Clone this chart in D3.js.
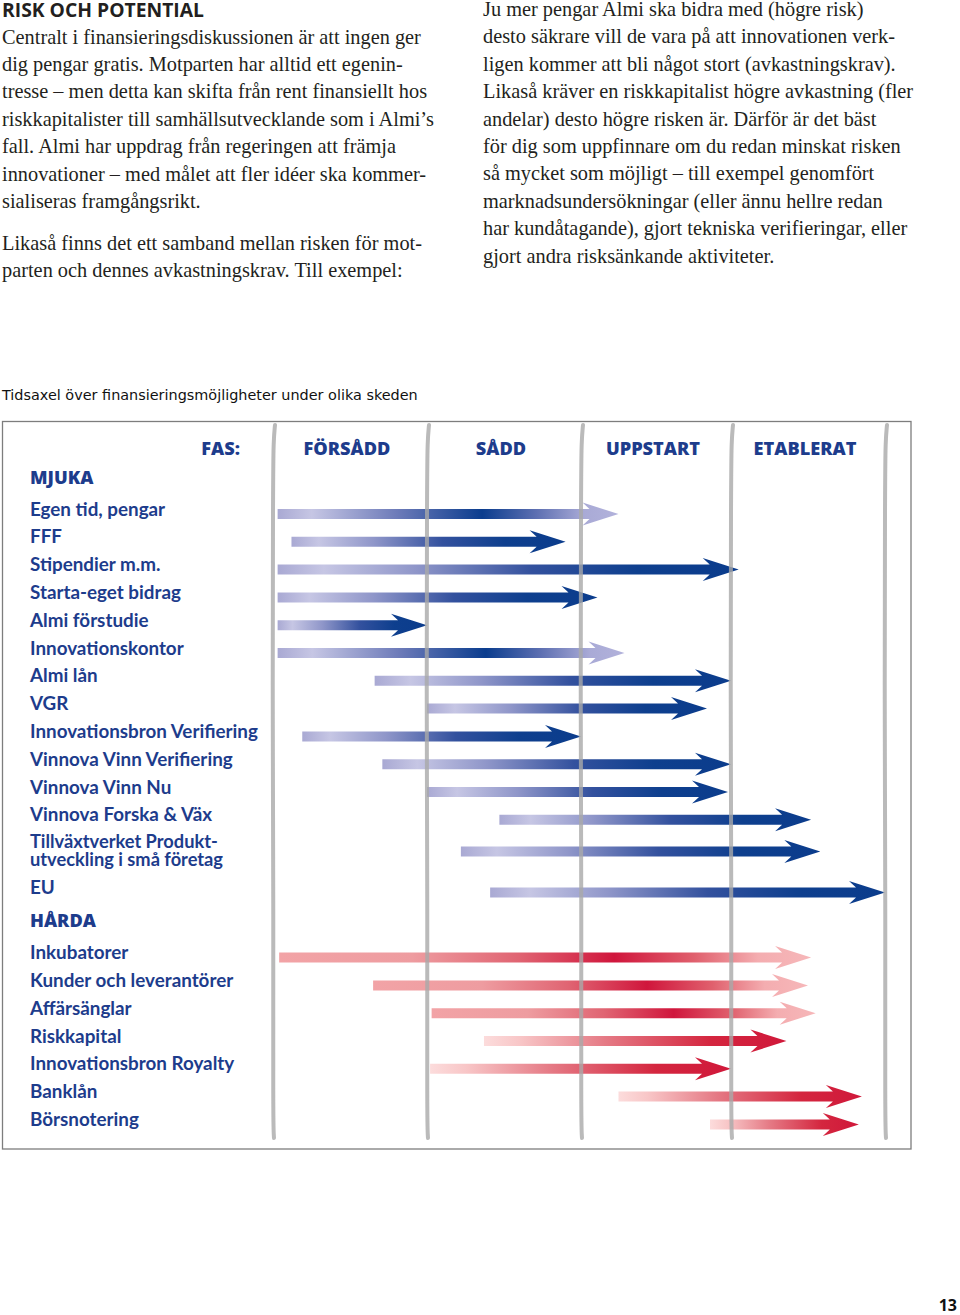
<!DOCTYPE html>
<html><head><meta charset="utf-8">
<script src="https://cdn.jsdelivr.net/npm/d3@7"></script>
<style>body{margin:0;background:#fff;} svg{display:block;}</style>
</head><body>
<svg id="c" width="960" height="1315"></svg>
<script>
// ---------- DATA ----------
const title = "RISK OCH POTENTIAL";
const leftText = [
  "Centralt i finansieringsdiskussionen är att ingen ger",
  "dig pengar gratis. Motparten har alltid ett egenin-",
  "tresse – men detta kan skifta från rent finansiellt hos",
  "riskkapitalister till samhällsutvecklande som i Almi’s",
  "fall. Almi har uppdrag från regeringen att främja",
  "innovationer – med målet att fler idéer ska kommer-",
  "sialiseras framgångsrikt."
];
const leftText2 = [
  "Likaså finns det ett samband mellan risken för mot-",
  "parten och dennes avkastningskrav. Till exempel:"
];
const rightText = [
  "Ju mer pengar Almi ska bidra med (högre risk)",
  "desto säkrare vill de vara på att innovationen verk-",
  "ligen kommer att bli något stort (avkastningskrav).",
  "Likaså kräver en riskkapitalist högre avkastning (fler",
  "andelar) desto högre risken är. Därför är det bäst",
  "för dig som uppfinnare om du redan minskat risken",
  "så mycket som möjligt – till exempel genomfört",
  "marknadsundersökningar (eller ännu hellre redan",
  "har kundåtagande), gjort tekniska verifieringar, eller",
  "gjort andra risksänkande aktiviteter."
];
const caption = "Tidsaxel över finansieringsmöjligheter under olika skeden";
const phaseTitle = "FAS:";
const phases = ["FÖRSÅDD", "SÅDD", "UPPSTART", "ETABLERAT"];
const mjukaTitle = "MJUKA";
const hardaTitle = "HÅRDA";

// Mjuka (soft) financing: label lines, start/end in phase units (0 = start of FÖRSÅDD, 4 = end of ETABLERAT)
const mjukaLabels = [
  ["Egen tid, pengar"], ["FFF"], ["Stipendier m.m."], ["Starta-eget bidrag"],
  ["Almi förstudie"], ["Innovationskontor"], ["Almi lån"], ["VGR"],
  ["Innovationsbron Verifiering"], ["Vinnova Vinn Verifiering"], ["Vinnova Vinn Nu"],
  ["Vinnova Forska & Väx"], ["Tillväxtverket Produkt-", "utveckling i små företag"], ["EU"]
];
const mjukaStart = [0.03, 0.12, 0.03, 0.03, 0.03, 0.03, 0.66, 1.00, 0.19, 0.71, 1.00, 1.47, 1.22, 1.41];
const mjukaEnd   = [2.25, 1.90, 3.05, 2.11, 1.00, 2.29, 3.00, 2.84, 2.00, 3.00, 2.98, 3.52, 3.58, 4.00];
const mjukaFade  = [true, false, false, false, false, true, false, false, false, false, false, false, false, false];

// Hårda (hard) financing
const hardaLabels = [
  ["Inkubatorer"], ["Kunder och leverantörer"], ["Affärsänglar"], ["Riskkapital"],
  ["Innovationsbron Royalty"], ["Banklån"], ["Börsnotering"]
];
const hardaStart = [0.04, 0.65, 1.03, 1.37, 1.02, 2.25, 2.86];
const hardaEnd   = [3.52, 3.50, 3.55, 3.36, 3.00, 3.85, 3.83];
const hardaFade  = [true, true, true, false, false, false, false];

const pageNumber = "13";

// ---------- STYLE / LAYOUT ----------
const svg = d3.select("#c");
const defs = svg.append("defs");
const navy = "#1d3c8c";
const textCol = "#231f20";
const serif = "'Liberation Serif', 'DejaVu Serif', serif";
const sans = "'Open Sans', 'Noto Sans', sans-serif";
const labelFont = "Lato, 'Open Sans', sans-serif";

function fit(sel, target) {
  const node = sel.node();
  const w = node.getComputedTextLength();
  const fs = parseFloat(sel.attr("font-size"));
  return fs * target / w;
}

// ---------- HEADER TEXT ----------
svg.append("text").attr("x", 2).attr("y", 17).attr("font-family", sans)
  .attr("font-weight", 700).attr("font-size", 19).attr("fill", textCol).text(title)
  .call(s => s.attr("font-size", fit(s, 202)));

const bodyProbe = svg.append("text").attr("font-family", serif).attr("font-size", 19).text(leftText[0]);
const bodySize = fit(bodyProbe, 419);
bodyProbe.remove();
const lineH = 27.4;

function para(lines, x, y0) {
  svg.append("g").selectAll("text").data(lines).join("text")
    .attr("x", x).attr("y", (d, i) => y0 + i * lineH)
    .attr("font-family", serif).attr("font-size", bodySize).attr("fill", textCol)
    .text(d => d);
}
para(leftText, 2, 43.5);
para(leftText2, 2, 249.5);
para(rightText, 483, 16);

svg.append("text").attr("x", 2).attr("y", 400).attr("font-family", "'DejaVu Sans', sans-serif")
  .attr("font-size", 14).attr("fill", "#111").text(caption)
  .call(s => s.attr("font-size", fit(s, 416)));

svg.append("text").attr("x", 957).attr("y", 1311).attr("text-anchor", "end")
  .attr("font-family", sans).attr("font-weight", 700).attr("font-size", 16).attr("fill", "#111")
  .text(pageNumber);

// ---------- CHART ----------
svg.append("rect").attr("x", 2.5).attr("y", 421.5).attr("width", 908.5).attr("height", 727.5)
  .attr("fill", "none").attr("stroke", "#7d7d7d").attr("stroke-width", 1.3);

const x = d3.scaleLinear().domain([0, 1, 2, 3, 4]).range([273, 427, 581, 731, 885]);

const heavy = (s) => s.attr("font-family", sans).attr("font-weight", 800).attr("fill", navy);
const phProbe = svg.append("text").call(heavy).attr("font-size", 19).text(phases[0]);
const phSize = fit(phProbe, 87);
phProbe.remove();

svg.append("g").selectAll("text").data(phases).join("text").call(heavy)
  .attr("font-size", phSize).attr("text-anchor", "middle")
  .attr("x", (d, i) => (x(i) + x(i + 1)) / 2 - 3).attr("y", 455).text(d => d);
svg.append("text").call(heavy).attr("font-size", phSize).attr("text-anchor", "end")
  .attr("x", 240).attr("y", 455).text(phaseTitle);

const lbProbe = svg.append("text").attr("font-family", labelFont).attr("font-weight", 700)
  .attr("font-size", 18).text("Innovationsbron Verifiering");
const lbSize = fit(lbProbe, 228);
lbProbe.remove();

const rowStep = 27.8;
function layout(labels, first) {
  const ys = [];
  labels.forEach((l, i) => {
    if (i === 0) ys.push(first);
    else ys.push(ys[i - 1] + rowStep + (l.length - 1) * 4 + (labels[i - 1].length - 1) * 13.2);
  });
  return ys;
}
const mjukaY = layout(mjukaLabels, 514);
const hardaY = layout(hardaLabels, mjukaY[mjukaY.length - 1] + 65);

svg.append("text").call(heavy).attr("font-size", phSize).attr("x", 30).attr("y", 484).text(mjukaTitle);
svg.append("text").call(heavy).attr("font-size", phSize).attr("x", 30)
  .attr("y", mjukaY[mjukaY.length - 1] + 34).text(hardaTitle);

function labelsG(labels, ys) {
  const g = svg.append("g");
  labels.forEach((lines, i) => {
    const n = lines.length;
    lines.forEach((t, k) => {
      g.append("text").attr("x", 30)
        .attr("y", n === 1 ? ys[i] + 1.5 : ys[i] - 3.5 + k * 18)
        .attr("font-family", labelFont).attr("font-weight", 700)
        .attr("font-size", n === 1 ? lbSize : lbSize * 0.97)
        .attr("fill", navy).text(t);
    });
  });
}
labelsG(mjukaLabels, mjukaY);
labelsG(hardaLabels, hardaY);

const headLen = 36, notch = 7, headHalf = 11.5, shaftHalf = 5;
function arrowPath(x0, x1, y) {
  const p = d3.path();
  p.moveTo(x0, y - shaftHalf);
  p.lineTo(x1 - headLen + notch, y - shaftHalf);
  p.lineTo(x1 - headLen, y - headHalf);
  p.lineTo(x1, y);
  p.lineTo(x1 - headLen, y + headHalf);
  p.lineTo(x1 - headLen + notch, y + shaftHalf);
  p.lineTo(x0, y + shaftHalf);
  p.closePath();
  return p.toString();
}
const stopsSet = {
  blue: [[0, "#a9a9d3"], [0.1, "#c6c6e4"], [0.3, "#8f96c9"], [0.55, "#33519e"], [0.78, "#0e3f8e"], [1, "#0b3c8c"]],
  blueFade: [[0, "#a9a9d3"], [0.1, "#c6c6e4"], [0.35, "#6d7bb9"], [0.6, "#0b3d8e"], [0.76, "#5e70b2"], [0.9, "#a9aad6"], [1, "#b2b2db"]],
  red: [[0, "#fcdcdc"], [0.12, "#f8c6c7"], [0.4, "#e57a85"], [0.75, "#d4263f"], [1, "#d0183a"]],
  redFade: [[0, "#f2a3a6"], [0.25, "#ee9ca0"], [0.45, "#e06472"], [0.63, "#d0163c"], [0.78, "#e0606d"], [0.9, "#f4adb0"], [1, "#f6b7b9"]]
};
let gid = 0;
function arrows(starts, ends, fades, ys, kind) {
  const g = svg.append("g");
  starts.forEach((s, i) => {
    const x0 = x(s), x1 = x(ends[i]);
    const id = "g" + (gid++);
    const stops = stopsSet[fades[i] ? kind + "Fade" : kind];
    const lg = defs.append("linearGradient").attr("id", id).attr("gradientUnits", "userSpaceOnUse")
      .attr("x1", x0).attr("x2", x1).attr("y1", 0).attr("y2", 0);
    lg.selectAll("stop").data(stops).join("stop").attr("offset", d => d[0]).attr("stop-color", d => d[1]);
    g.append("path").attr("d", arrowPath(x0, x1, ys[i])).attr("fill", `url(#${id})`);
  });
}
arrows(mjukaStart, mjukaEnd, mjukaFade, mjukaY, "blue");
arrows(hardaStart, hardaEnd, hardaFade, hardaY, "red");

const sepTop = 425, sepBot = 1138;
svg.append("g").selectAll("path").data(d3.range(5)).join("path")
  .attr("d", i => {
    const xx = x(i);
    return d3.line().curve(d3.curveBasis)([
      [xx + 2, sepTop], [xx + 0.5, sepTop + 15], [xx, sepTop + 60], [xx - 0.5, 700],
      [xx + 0.5, 900], [xx, sepBot - 15], [xx + 1, sepBot]
    ]);
  })
  .attr("fill", "none").attr("stroke", "#a9a9a9").attr("stroke-opacity", 0.8)
  .attr("stroke-width", 4).attr("stroke-linecap", "round");
</script>
</body></html>
